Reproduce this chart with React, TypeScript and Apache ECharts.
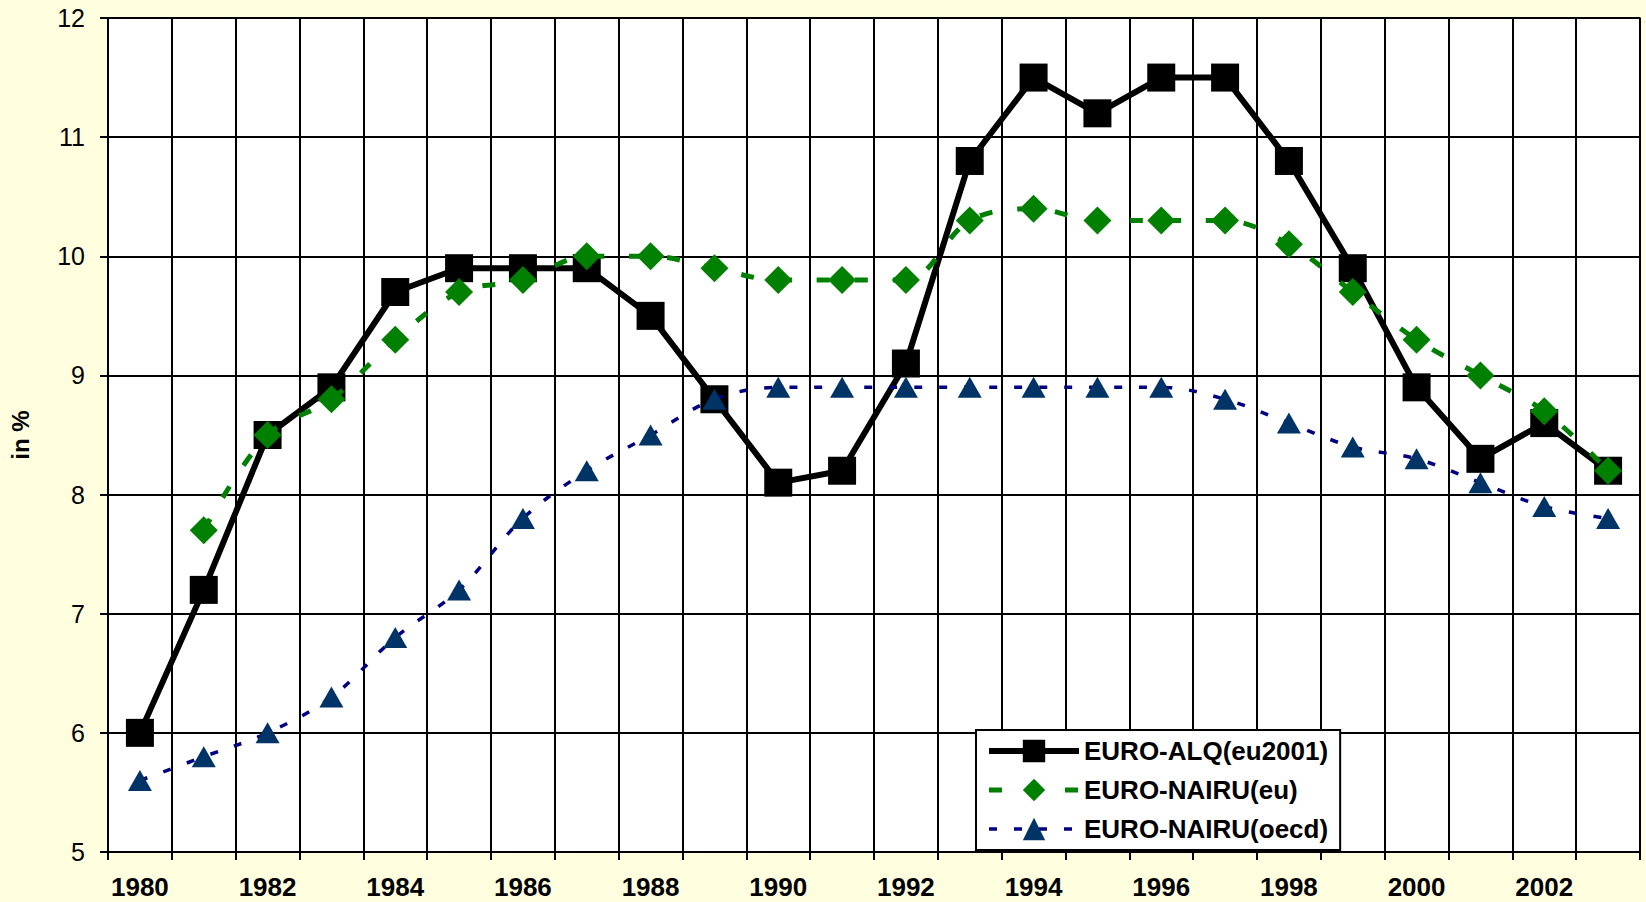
import React, { useEffect, useRef } from "react";
import * as echarts from "echarts";

const years = ["1980","1981","1982","1983","1984","1985","1986","1987","1988","1989","1990","1991","1992","1993","1994","1995","1996","1997","1998","1999","2000","2001","2002","2003"];
const euroAlq = [6.0,7.2,8.5,8.9,9.7,9.9,9.9,9.9,9.5,8.8,8.1,8.2,9.1,10.8,11.5,11.2,11.5,11.5,10.8,9.9,8.9,8.3,8.6,8.2];
const nairuEu = [null,7.7,8.5,8.8,9.3,9.7,9.8,10.0,10.0,9.9,9.8,9.8,9.8,10.3,10.4,10.3,10.3,10.3,10.1,9.7,9.3,9.0,8.7,8.2];
const nairuOecd = [5.6,5.8,6.0,6.3,6.8,7.2,7.8,8.2,8.5,8.8,8.9,8.9,8.9,8.9,8.9,8.9,8.9,8.8,8.6,8.4,8.3,8.1,7.9,7.8];
const seriesNames = ["EURO-ALQ(eu2001)", "EURO-NAIRU(eu)", "EURO-NAIRU(oecd)"];

const FONT = "'Liberation Sans', Arial, sans-serif";

export default function App() {
  const ref = useRef<HTMLDivElement>(null);
  useEffect(() => {
    if (!ref.current) return;
    const chart = echarts.init(ref.current, null, { renderer: "svg" });
    chart.setOption({
      animation: false,
      backgroundColor: "#FFFFE0",
      textStyle: { fontFamily: FONT },
      grid: {
        left: 107, right: 6, top: 18, bottom: 50,
        show: true, backgroundColor: "#ffffff", borderColor: "#808080", borderWidth: 2,
      },
      legend: {
        orient: "vertical",
        left: 976, top: 730,
        padding: [8, 12, 8, 10],
        backgroundColor: "#ffffff",
        borderColor: "#000000",
        borderWidth: 2,
        borderRadius: 0,
        itemWidth: 90, itemHeight: 28, itemGap: 13,
        textStyle: { fontFamily: FONT, fontSize: 26, fontWeight: "bold", color: "#000" },
        data: [
          { name: seriesNames[0], lineStyle: { width: 6, color: "#000" } },
          { name: seriesNames[1], lineStyle: { width: 5, color: "#008000", type: [13, 25] } },
          { name: seriesNames[2], lineStyle: { width: 3.5, color: "#000080", type: [8, 17] } },
        ],
      },
      xAxis: {
        type: "category",
        data: years,
        boundaryGap: true,
        axisLine: { show: true, lineStyle: { color: "#000", width: 2 } },
        axisTick: { show: true, interval: 0, length: 8, lineStyle: { color: "#000", width: 2 } },
        axisLabel: { interval: 1, fontSize: 26, fontWeight: "bold", color: "#000", margin: 22, fontFamily: FONT },
        splitLine: { show: true, interval: 0, lineStyle: { color: "#000", width: 2 } },
      },
      yAxis: {
        type: "value",
        min: 5, max: 12, interval: 1,
        name: "in %",
        nameLocation: "middle",
        nameRotate: 90,
        nameGap: 76,
        nameTextStyle: { fontSize: 24, fontWeight: "bold", color: "#000", fontFamily: FONT },
        axisLine: { show: true, lineStyle: { color: "#000", width: 2 } },
        axisTick: { show: true, length: 8, lineStyle: { color: "#000", width: 2 } },
        axisLabel: { fontSize: 25, color: "#000", margin: 23, fontFamily: FONT },
        splitLine: { show: true, lineStyle: { color: "#000", width: 2 } },
      },
      series: [
        {
          name: seriesNames[0], type: "line", data: euroAlq,
          symbol: "rect", symbolSize: 28,
          lineStyle: { color: "#000", width: 6 },
          itemStyle: { color: "#000" },
          z: 2,
        },
        {
          name: seriesNames[1], type: "line", data: nairuEu, smooth: 0.35,
          symbol: "diamond", symbolSize: 28,
          lineStyle: { color: "#008000", width: 5, type: [13, 25] },
          itemStyle: { color: "#008000" },
          z: 3,
        },
        {
          name: seriesNames[2], type: "line", data: nairuOecd, smooth: 0.35,
          symbol: "triangle", symbolSize: [24, 21],
          lineStyle: { color: "#000080", width: 3.5, type: [8, 17] },
          itemStyle: { color: "#003366" },
          z: 4,
        },
      ],
    });
    return () => chart.dispose();
  }, []);
  return <div ref={ref} style={{ position: "absolute", left: 0, top: 0, width: 1646, height: 902 }} />;
}
